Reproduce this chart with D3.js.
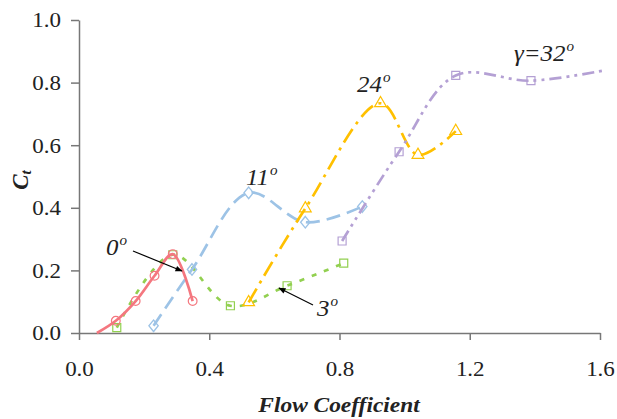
<!DOCTYPE html>
<html>
<head>
<meta charset="utf-8">
<script src="https://cdn.jsdelivr.net/npm/d3@7"></script>
<style>
  body { margin: 0; background: #fff; }
  text { font-family: "Liberation Serif", "Times New Roman", serif; }
</style>
</head>
<body>
<div id="chart"></div>
<script>
// flow coefficient / Ct, one array per stagger angle
const phi0  = [0.055, 0.113, 0.174, 0.232, 0.288, 0.349];
const ct0   = [0.0,   0.039, 0.102, 0.183, 0.252, 0.102];
const phi3  = [0.116, 0.288, 0.465, 0.639, 0.813];
const ct3   = [0.017, 0.250, 0.087, 0.151, 0.223];
const phi11 = [0.229, 0.347, 0.521, 0.695, 0.870];
const ct11  = [0.023, 0.203, 0.448, 0.354, 0.404];
const phi24 = [0.521, 0.695, 0.926, 1.041, 1.157];
const ct24  = [0.098, 0.398, 0.734, 0.569, 0.645];
const phi32 = [0.808, 0.983, 1.157, 1.388, 1.618];
const ct32  = [0.294, 0.579, 0.823, 0.806, 0.840];

const xTicks = [0, 0.4, 0.8, 1.2, 1.6];
const yTicks = [0, 0.2, 0.4, 0.6, 0.8, 1.0];

const series = [
  { name: "3",  x: phi3,  y: ct3,  color: "#92d050", dash: "5,8",  marker: "square", skipFirst: false, skipLast: false },
  { name: "11", x: phi11, y: ct11, color: "#9dc3e6", dash: "14,7", marker: "diamond", skipFirst: false, skipLast: false },
  { name: "24", x: phi24, y: ct24, color: "#ffc000", dash: "16,6,3,6", marker: "triangle", skipFirst: false, skipLast: false },
  { name: "32", x: phi32, y: ct32, color: "#b4a0d4", dash: "12,5,3,5,3,5", marker: "square", skipFirst: false, skipLast: true },
  { name: "0",  x: phi0,  y: ct0,  color: "#f4777f", dash: null,   marker: "circle", skipFirst: true, skipLast: false }
];

const width = 617, height = 419;

const svg = d3.select("#chart")
  .append("svg")
  .attr("width", width)
  .attr("height", height);

const x = d3.scaleLinear().domain([0, 1.6]).range([79, 600]);
const y = d3.scaleLinear().domain([0, 1]).range([333, 20]);

// axes
const xAxis = svg.append("g")
  .attr("transform", `translate(0,${y(0)})`)
  .call(d3.axisBottom(x).tickValues(xTicks).tickFormat(d3.format(".1f")).tickSize(7).tickSizeOuter(0));

const yAxis = svg.append("g")
  .attr("transform", `translate(${x(0)},0)`)
  .call(d3.axisLeft(y).tickValues(yTicks).tickFormat(d3.format(".1f")).tickSize(8).tickSizeOuter(0));

[xAxis, yAxis].forEach(a => {
  a.select(".domain").attr("stroke", "#777").attr("stroke-width", 1.5);
  a.selectAll(".tick line").attr("stroke", "#777").attr("stroke-width", 1.5);
  a.selectAll(".tick text")
    .attr("fill", "#222")
    .style("font-family", "Liberation Serif")
    .style("font-size", "20px");
});
// the source font is drawn a bit wide, so stretch the labels sideways
xAxis.selectAll(".tick text")
  .attr("x", 0).attr("y", 0).attr("dy", 0)
  .attr("transform", "translate(0,43) scale(1.15,1)");
yAxis.selectAll(".tick text")
  .attr("x", 0).attr("dy", "0.34em")
  .attr("transform", "translate(-18,0) scale(1.15,1)");

// axis titles
svg.append("text")
  .attr("transform", "translate(339,412) scale(1.17,1)")
  .attr("text-anchor", "middle")
  .style("font-size", "20px")
  .style("font-weight", "bold")
  .style("font-style", "italic")
  .attr("fill", "#222")
  .text("Flow Coefficient");

const yt = svg.append("text")
  .attr("transform", "translate(28,180) rotate(-90)")
  .attr("text-anchor", "middle")
  .style("font-weight", "bold")
  .style("font-style", "italic")
  .attr("fill", "#222");
yt.append("tspan").style("font-size", "23px").text("C");
yt.append("tspan").style("font-size", "15px").attr("dy", 3).text("t");

// curves
const line = d3.line()
  .x(d => x(d[0]))
  .y(d => y(d[1]))
  .curve(d3.curveCatmullRom.alpha(0.5));

const plot = svg.append("g");

series.forEach(s => {
  const pts = s.x.map((v, i) => [v, s.y[i]]);
  plot.append("path")
    .datum(pts)
    .attr("d", line)
    .attr("fill", "none")
    .attr("stroke", s.color)
    .attr("stroke-width", 2.7)
    .attr("stroke-dasharray", s.dash);

  let mk = pts;
  if (s.skipFirst) mk = mk.slice(1);
  if (s.skipLast) mk = mk.slice(0, -1);

  const sym = {
    circle: d3.symbolCircle,
    square: d3.symbolSquare,
    diamond: d3.symbolDiamond,
    triangle: d3.symbolTriangle
  }[s.marker];
  const size = { circle: 60, square: 64, diamond: 48, triangle: 60 }[s.marker];

  plot.selectAll(null)
    .data(mk)
    .join("path")
    .attr("transform", d => `translate(${x(d[0])},${y(d[1])})` + (s.marker === "diamond" ? " scale(1.25,0.9)" : ""))
    .attr("d", d3.symbol().type(sym).size(size))
    .attr("fill", "none")
    .attr("stroke", s.color)
    .attr("stroke-width", 1.2);
});

// annotations
svg.append("defs").append("marker")
  .attr("id", "arr")
  .attr("viewBox", "0 0 10 10")
  .attr("refX", 9)
  .attr("refY", 5)
  .attr("markerWidth", 7)
  .attr("markerHeight", 6)
  .attr("orient", "auto")
  .append("path")
  .attr("d", "M0,1 L10,5 L0,9 Z")
  .attr("fill", "#000");

const arrows = [
  [[133, 251], [182, 271]],
  [[313, 305], [279, 288]]
];
arrows.forEach(a => {
  svg.append("line")
    .attr("x1", a[0][0]).attr("y1", a[0][1])
    .attr("x2", a[1][0]).attr("y2", a[1][1])
    .attr("stroke", "#000")
    .attr("stroke-width", 1.2)
    .attr("marker-end", "url(#arr)");
});

const labels = [
  { t: "0",    x: 106, y: 255 },
  { t: "3",    x: 317, y: 316 },
  { t: "11",   x: 246, y: 185 },
  { t: "24",   x: 357, y: 92 },
  { t: "γ=32", x: 514, y: 61 }
];
labels.forEach(l => {
  const t = svg.append("text")
    .attr("transform", `translate(${l.x},${l.y}) scale(1.08,1)`)
    .style("font-style", "italic")
    .style("font-size", "23px")
    .attr("fill", "#222");
  t.append("tspan").text(l.t);
  t.append("tspan").attr("dx", 1).attr("dy", -10).style("font-size", "14px").text("o");
});
</script>
</body>
</html>
